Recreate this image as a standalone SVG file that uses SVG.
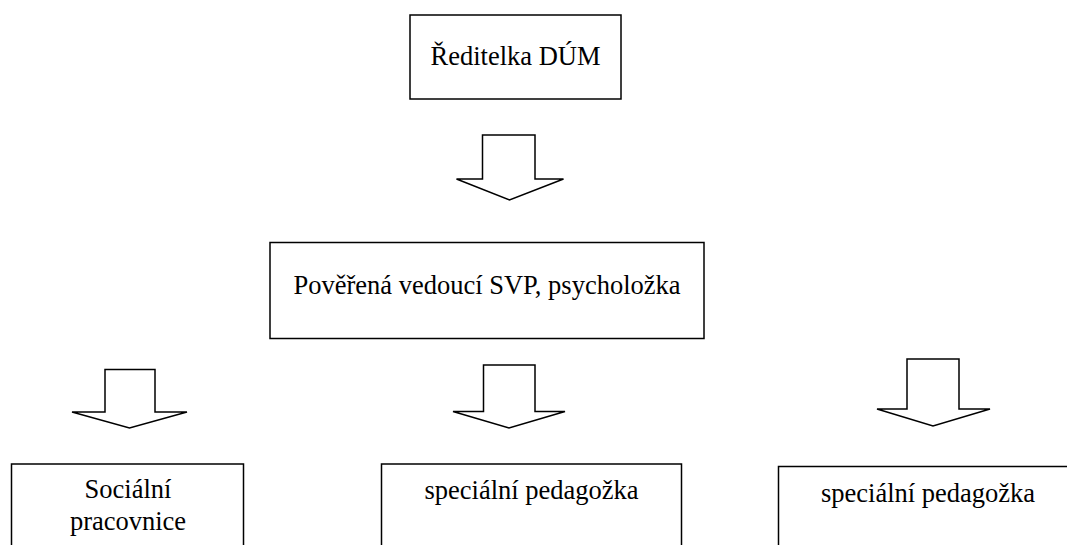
<svg xmlns="http://www.w3.org/2000/svg" width="1067" height="545" viewBox="0 0 1067 545">
<style>
.box{fill:#fff;stroke:#000;stroke-width:1.5}
.arr{fill:#fff;stroke:#000;stroke-width:1.5;stroke-linejoin:miter}
.t{font-size:26.5px;fill:#000;text-anchor:middle}
</style>
<rect width="1067" height="545" fill="#fff"/>
<g id="connectors">
<polygon class="arr" points="482.5,135 535,135 535,179 563.5,179 509.5,200 456.5,179 482.5,179"/>
<polygon class="arr" points="105,369.5 155,369.5 155,412 187,412 129.5,428 72,412 105,412"/>
<polygon class="arr" points="483.5,365 535,365 535,411.5 565,411.5 509,428 453,411.5 483.5,411.5"/>
<polygon class="arr" points="907,359 959,359 959,409 990,409 933,426 877,409 907,409"/>
</g>
<g font-family="'Liberation Serif', 'DejaVu Serif', serif">
<g id="node-reditelka">
<rect class="box" x="410" y="15" width="211" height="84"/>
<text class="t" x="515.5" y="65">Ředitelka DÚM</text>
</g>
<g id="node-poverena">
<rect class="box" x="270" y="242.5" width="434" height="96"/>
<text class="t" x="487" y="294">Pověřená vedoucí SVP, psycholožka</text>
</g>
<g id="node-socialni">
<rect class="box" x="11.5" y="464" width="232" height="100"/>
<text class="t" x="128" y="498">Sociální</text>
<text class="t" x="128" y="530">pracovnice</text>
</g>
<g id="node-pedagozka1">
<rect class="box" x="381.5" y="464" width="300" height="100"/>
<text class="t" x="531.5" y="499">speciální pedagožka</text>
</g>
<g id="node-pedagozka2">
<rect class="box" x="778.5" y="466.5" width="320" height="100"/>
<text class="t" x="928" y="502">speciální pedagožka</text>
</g>
</g>
</svg>
